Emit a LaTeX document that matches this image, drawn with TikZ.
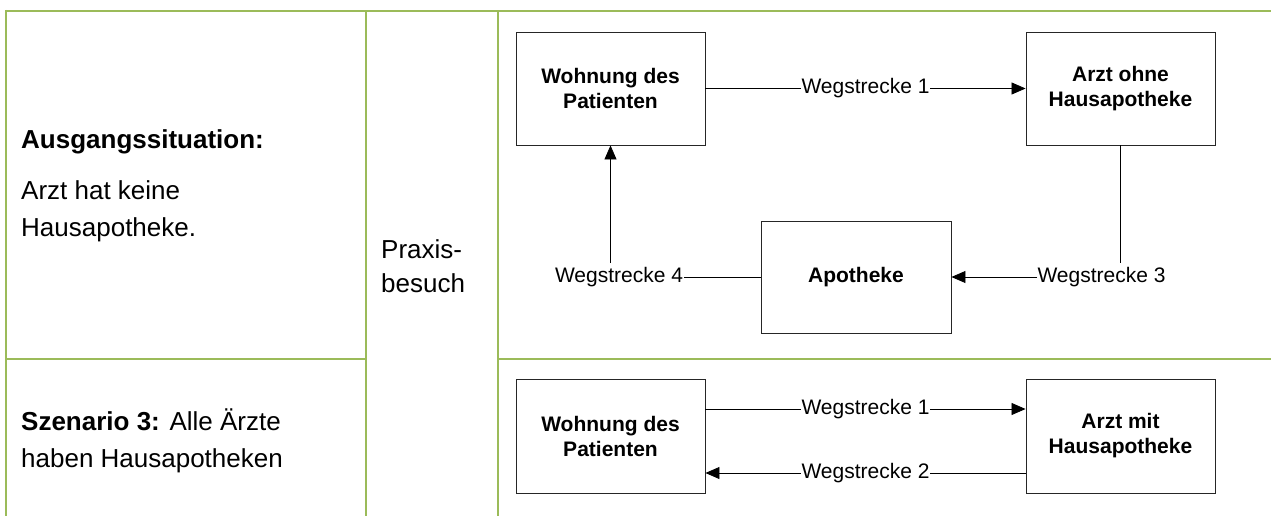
\documentclass[tikz,border=0pt]{standalone}
\usepackage{fontspec}
\setmainfont{Liberation Sans}
\usetikzlibrary{arrows.meta}
\definecolor{gridgreen}{HTML}{9BBB59}
\begin{document}
\begin{tikzpicture}[x=1pt,y=-1pt,
  grid/.style={draw=gridgreen,line width=2pt},
  stationbox/.style={draw=black!85,line width=0.9pt,fill=white,
    minimum width=189pt,minimum height=113pt,inner sep=0pt,align=center,
    font=\fontsize{21}{25}\selectfont\bfseries},
  weglabel/.style={fill=white,inner xsep=0.3pt,inner ysep=4pt,
    font=\fontsize{21}{25}\selectfont},
  lefttext/.style={anchor=base west,inner sep=0pt,
    font=\fontsize{26}{30}\selectfont},
  conn/.style={draw=black,line width=0.8pt},
  arr/.style={conn,-{Triangle[length=14pt,width=12pt]}}]
\useasboundingbox (0,0) rectangle (1271,516);

% table grid
\draw[grid] (6,11) -- (1271,11);
\draw[grid] (6,10) -- (6,516);
\draw[grid] (366,11) -- (366,516);
\draw[grid] (498,11) -- (498,516);
\draw[grid] (6,359) -- (366,359);
\draw[grid] (498,359) -- (1271,359);

% first column
\node[lefttext] (ausg) at (21,149) {\bfseries Ausgangssituation:};
\node[lefttext] (ausgA) at (21,199) {Arzt hat keine};
\node[lefttext] (ausgB) at (21,236) {Hausapotheke.};
\node[lefttext] (szenA) at (21,430) {{\bfseries Szenario 3:} Alle Ärzte};
\node[lefttext] (szenB) at (21,467) {haben Hausapotheken};

% second column
\node[lefttext] (praxA) at (381,258) {Praxis-};
\node[lefttext] (praxB) at (381,292) {besuch};

% initial situation
\node[stationbox] (wohn) at (610.5,88.5) {Wohnung des\\Patienten};
\node[stationbox] (arzt) at (1120.5,88.5) {Arzt ohne\\Hausapotheke};
\node[stationbox,minimum width=190pt,minimum height=112pt] (apo) at (856,277) {Apotheke};
\node[weglabel] (w3) at (1101.5,277) {Wegstrecke 3};
\node[weglabel] (w4) at (619,277) {Wegstrecke 4};

\draw[arr] (wohn) -- node[weglabel] (w1) {Wegstrecke 1} (arzt);
\draw[conn] (arzt.south) -- (w3.north -| arzt.south);
\draw[arr] (w3.west) -- (apo.east);
\draw[conn] (apo.west) -- (w4.east);
\draw[arr] (w4.north -| wohn.south) -- (wohn.south);

% scenario 3
\node[stationbox,minimum height=114pt] (wohnB) at (610.5,436) {Wohnung des\\Patienten};
\node[stationbox,minimum height=114pt] (arztB) at (1120.5,436) {Arzt mit\\Hausapotheke};
\draw[arr] ([yshift=27pt]wohnB.east) -- node[weglabel] (w1b) {Wegstrecke 1} ([yshift=27pt]arztB.west);
\draw[arr] ([yshift=-37pt]arztB.west) -- node[weglabel] (w2b) {Wegstrecke 2} ([yshift=-37pt]wohnB.east);
\end{tikzpicture}
\end{document}
